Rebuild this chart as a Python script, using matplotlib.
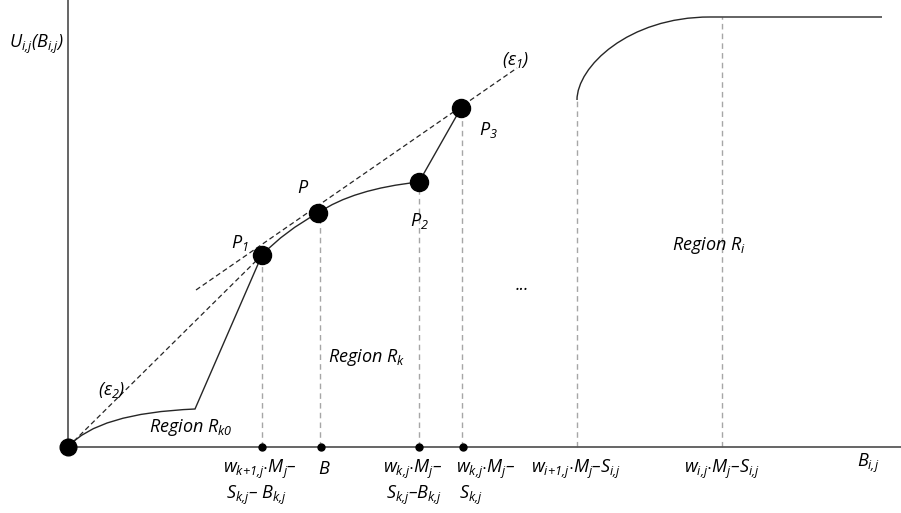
import matplotlib
matplotlib.use("Agg")
import matplotlib.pyplot as plt
from matplotlib.path import Path
from matplotlib.patches import PathPatch

plt.rcParams['font.family'] = ['Open Sans', 'DejaVu Sans']
plt.rcParams['mathtext.fontset'] = 'custom'
plt.rcParams['mathtext.it'] = 'Open Sans:italic'
plt.rcParams['mathtext.rm'] = 'Open Sans:italic'
plt.rcParams['mathtext.sf'] = 'Open Sans:italic'

# points on the utility curve (x = budget, y = utility), origin at the axes corner
pt_nomes = ['O', 'P1', 'P', 'P2', 'P3']
pt_x = [0, 194, 250, 351, 393]
pt_y = [0, 192, 234, 265, 339]

# region R_k0 : concave start then straight segment up to P1
rk0_x = [0, 30, 127, 194]
rk0_y = [0, 34, 38, 192]

# region R_k : P1 -> P -> P2 (quadratic pieces) then straight to P3
rk_x = [194, 217, 250, 285, 351, 393]
rk_y = [192, 216, 234, 258, 265, 339]

# region R_i : rising curve then flat
ri_x = [509, 509, 560, 642, 814]
ri_y = [347, 380, 430, 430, 430]

# tangents
eps1_x = [128, 449]
eps1_y = [157, 379]
eps2_x = [0, 194]
eps2_y = [0, 192]

# dashed drop lines (x, top)
drop_x = [194, 252, 351, 394, 509, 654]
drop_top = [192, 234, 265, 339, 347, 430]

# small ticks on the x axis
tick_x = [194, 253, 351, 395]

# bottom labels (x left, line 1, line 2)
lab_x = [155, 250, 315, 388, 463, 463]
lab_x[5] = 616
lab_x[4] = 463
lab_l1 = [r'$w_{k{+}1{,}j}{\cdot}M_j$–', r'$B$', r'$w_{k{,}j}{\cdot}M_j$–', r'$w_{k{,}j}{\cdot}M_j$–',
          r'$w_{i{+}1{,}j}{\cdot}M_j$–$S_{i{,}j}$', r'$w_{i{,}j}{\cdot}M_j$–$S_{i{,}j}$']
lab_l2 = [r'$S_{k{,}j}$– $B_{k{,}j}$', '', r'$S_{k{,}j}$–$B_{k{,}j}$', r'$S_{k{,}j}$', '', '']

fig = plt.figure(figsize=(9.01, 5.13), dpi=100)
ax = fig.add_axes([0, 0, 1, 1])
ax.set_xlim(-68, 833)
ax.set_ylim(-66, 447)
ax.axis('off')

eixo = '#595959'
tinta = '#262626'
cinza = '#a6a6a6'

# axes
ax.plot([0, 833], [0, 0], color=eixo, lw=1.3, zorder=2)
ax.plot([0, 0], [0, 447], color=eixo, lw=1.3, zorder=2)

# drop lines
for x, t in zip(drop_x, drop_top):
    ax.plot([x, x], [0, t], color=cinza, lw=1, ls=(0, (4, 3)), zorder=1)

# curves
v = list(zip(rk0_x, rk0_y))
p = Path(v, [Path.MOVETO, Path.CURVE3, Path.CURVE3, Path.LINETO])
ax.add_patch(PathPatch(p, fc='none', ec=tinta, lw=1, zorder=3))

v = list(zip(rk_x, rk_y))
p = Path(v, [Path.MOVETO, Path.CURVE3, Path.CURVE3, Path.CURVE3, Path.CURVE3, Path.LINETO])
ax.add_patch(PathPatch(p, fc='none', ec=tinta, lw=1, zorder=3))

v = list(zip(ri_x, ri_y))
p = Path(v, [Path.MOVETO, Path.CURVE4, Path.CURVE4, Path.CURVE4, Path.LINETO])
ax.add_patch(PathPatch(p, fc='none', ec=tinta, lw=1, zorder=3))

# tangents
ax.plot(eps1_x, eps1_y, color=tinta, lw=0.9, ls=(0, (4, 2.5)), zorder=3)
ax.plot(eps2_x, eps2_y, color=tinta, lw=0.9, ls=(0, (4, 2.5)), zorder=3)

# points
ax.plot(pt_x[1:], pt_y[1:], 'o', color='black', ms=13, zorder=4)
ax.plot(pt_x[:1], pt_y[:1], 'o', color='black', ms=12, zorder=4)
ax.plot(tick_x, [0] * len(tick_x), 'o', color='black', ms=5, zorder=4)

fs = 13
kw = dict(fontsize=fs, style='italic', color='black', va='center')
ax.text(-32, 403, r'$U_{i{,}j}(B_{i{,}j})$', ha='center', **kw)
ax.text(448, 387, r'$(ε_1)$', ha='center', **kw)
ax.text(44, 57, r'$(ε_2)$', ha='center', **kw)
ax.text(420, 317, r'$P_3$', ha='center', **kw)
ax.text(235, 259, r'$P$', ha='center', **kw)
ax.text(351, 226, r'$P_2$', ha='center', **kw)
ax.text(172, 204, r'$P_1$', ha='center', **kw)
ax.text(299, 89, r'Region $R_k$', ha='center', **kw)
ax.text(123, 19, r'Region $R_{k0}$', ha='center', **kw)
ax.text(641, 202, r'Region $R_i$', ha='center', **kw)
ax.text(454, 162, '...', ha='center', **kw)
ax.text(800, -16, r'$B_{i{,}j}$', ha='center', **kw)

for x, l1, l2 in zip(lab_x, lab_l1, lab_l2):
    ax.text(x, -22, l1, ha='left', **kw)
    if l2:
        ax.text(x + 3, -48, l2, ha='left', **kw)

fig.savefig('out.png', dpi=100)
